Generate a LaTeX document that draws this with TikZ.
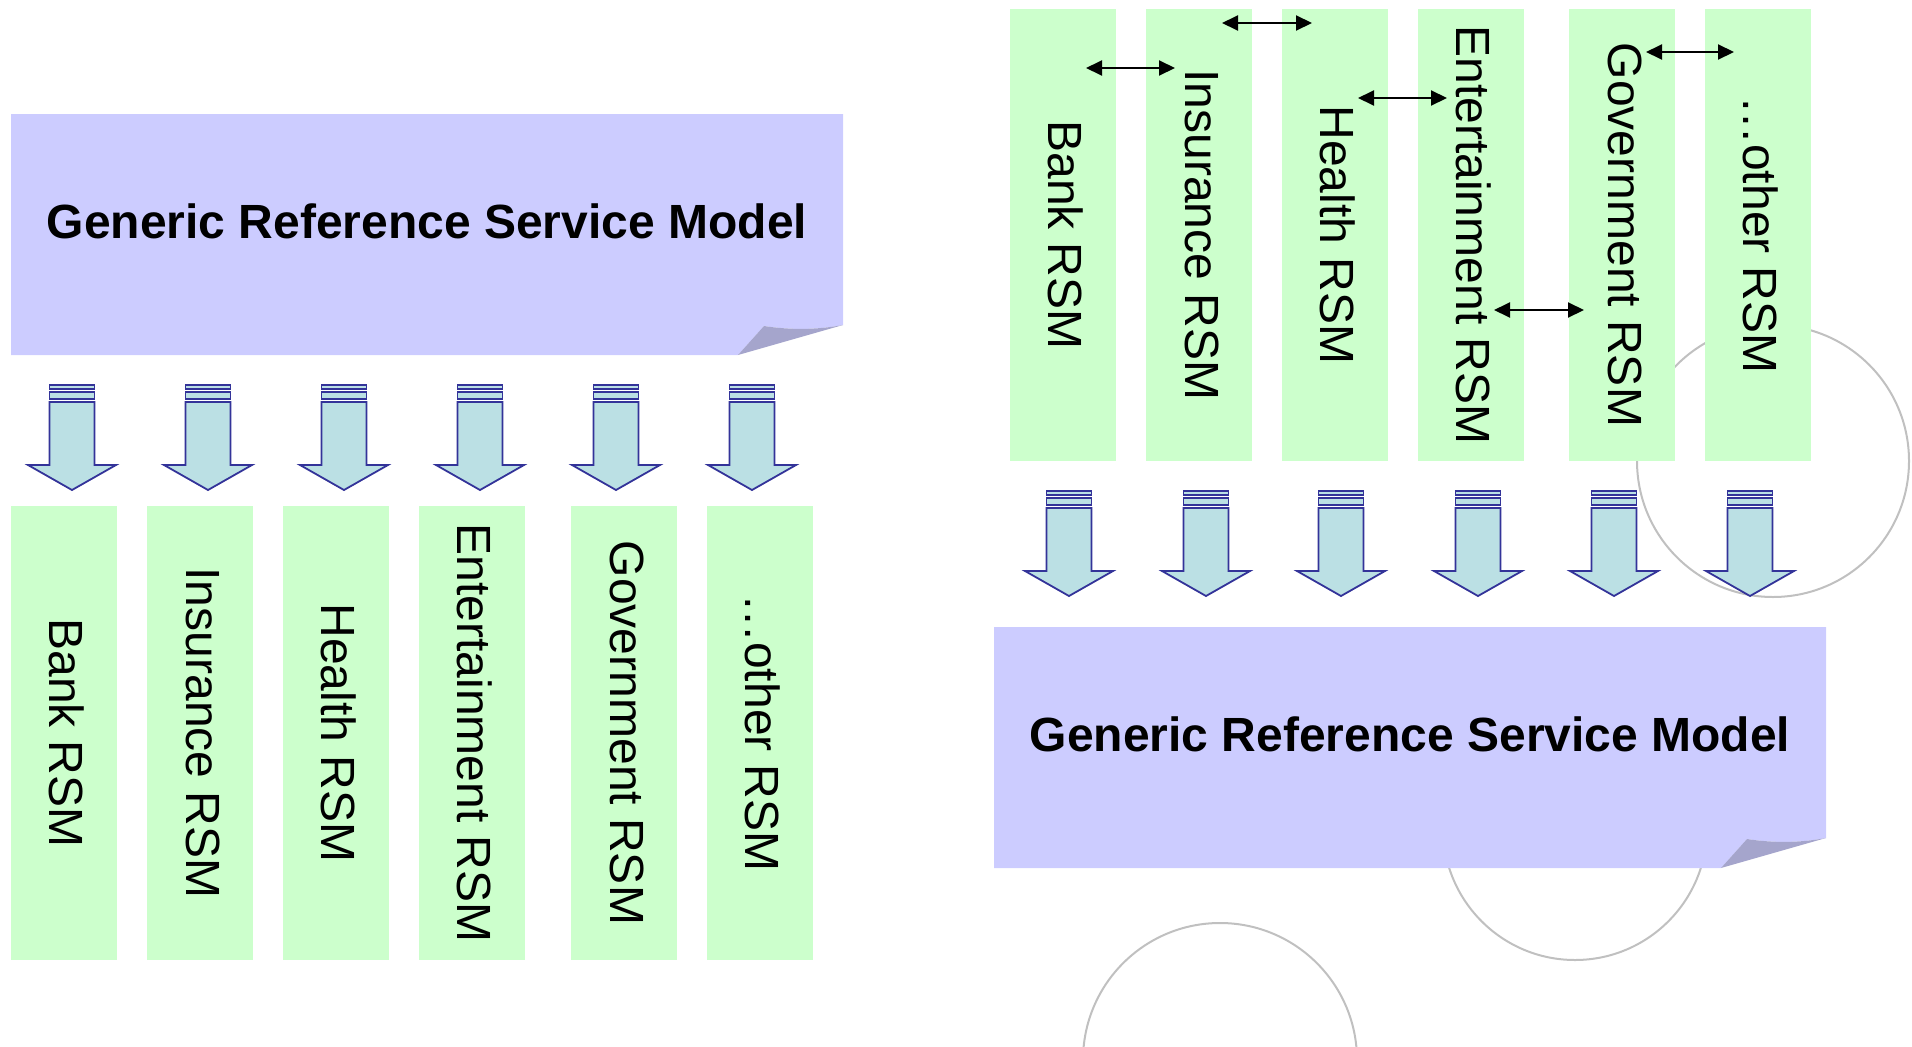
\documentclass[tikz,border=0pt]{standalone}
\usepackage{fontspec}
\setmainfont{Liberation Sans}
\usetikzlibrary{arrows.meta}

\definecolor{notefill}{RGB}{204,204,255}
\definecolor{notefold}{RGB}{165,165,204}
\definecolor{rsmfill}{RGB}{204,255,204}
\definecolor{arrowfill}{RGB}{187,224,228}
\definecolor{arrowline}{RGB}{51,51,153}
\definecolor{ringgray}{RGB}{192,192,192}

\tikzset{
  rsm/.style={fill=rsmfill, rotate=-90, minimum width=454pt, minimum height=106pt,
    inner sep=0pt, text depth=6pt, font=\fontsize{48}{58}\selectfont},
  rsmtop/.style={rsm, minimum width=452pt},
  title/.style={inner sep=0pt, font=\fontsize{48}{58}\selectfont\bfseries},
  ring/.style={draw=ringgray, line width=2pt},
  blockline/.style={draw=arrowline, fill=arrowfill, line width=1.8pt, miter limit=10},
  link/.style={draw=black, line width=2pt,
    {Triangle[length=16pt,width=15pt]}-{Triangle[length=16pt,width=15pt]}},
  % sticky note with a curled lower right corner, origin at its top left
  note/.pic={
    \fill[notefill] (0,0) -- (832,0) -- (832,211)
      .. controls (805,216) and (779,216) .. (753,212) -- (727,241) -- (0,241) -- cycle;
    \fill[notefold] (727,241) -- (753,212)
      .. controls (779,216) and (805,216) .. (832,211) -- cycle;
  },
  % striped block arrow pointing down, origin at the middle of its top
  downarrow/.pic={
    \path[blockline] (-22.5,0) rectangle (22.5,4);
    \path[blockline] (-22.5,7) rectangle (22.5,14);
    \path[blockline] (-22.5,17) -- (22.5,17) -- (22.5,80) -- (44,80)
      -- (0,105) -- (-44,80) -- (-22.5,80) -- cycle;
  },
}

\begin{document}
\begin{tikzpicture}[x=1pt, y=-1pt]
\useasboundingbox (0,0) rectangle (1912,1047);

% background rings
\draw[ring] (1773,461) circle[radius=136];
\draw[ring] (1575,828) circle[radius=132];
\draw[ring] (1220,1060) circle[radius=137];

% ---- left: generic model refined into the domain models ----
\pic at (11,114) {note};
\node[title] (lgrsm) at (427,221) {Generic Reference Service Model};

\foreach \cx in {72,208,344,480,616,752}
  \pic at (\cx,385) {downarrow};

\node[rsm] (lbank) at (64,733)  {Bank RSM};
\node[rsm] (lins)  at (200,733) {Insurance RSM};
\node[rsm] (lhea)  at (336,733) {Health RSM};
\node[rsm] (lent)  at (472,733) {Entertainment RSM};
\node[rsm] (lgov)  at (624,733) {Government RSM};
\node[rsm] (loth)  at (760,733) {…other RSM};

% ---- right: domain models abstracted into the generic model ----
\node[rsmtop] (rbank) at (1063,235) {Bank RSM};
\node[rsmtop] (rins)  at (1199,235) {Insurance RSM};
\node[rsmtop] (rhea)  at (1335,235) {Health RSM};
\node[rsmtop] (rent)  at (1471,235) {Entertainment RSM};
\node[rsmtop] (rgov)  at (1622,235) {Government RSM};
\node[rsmtop] (roth)  at (1758,235) {…other RSM};

% links between neighbouring domain models
\coordinate (bi1) at (1086,68);  \coordinate (bi2) at (1175,68);
\coordinate (ih1) at (1222,23);  \coordinate (ih2) at (1312,23);
\coordinate (he1) at (1358,98);  \coordinate (he2) at (1447,98);
\coordinate (eg1) at (1494,310); \coordinate (eg2) at (1584,310);
\coordinate (go1) at (1646,52);  \coordinate (go2) at (1734,52);
\draw[link] (bi1) -- (bi2);
\draw[link] (ih1) -- (ih2);
\draw[link] (he1) -- (he2);
\draw[link] (eg1) -- (eg2);
\draw[link] (go1) -- (go2);

\foreach \cx in {1069,1206,1341,1478,1614,1750}
  \pic at (\cx,491) {downarrow};

\pic at (994,627) {note};
\node[title] (rgrsm) at (1410,734) {Generic Reference Service Model};
\end{tikzpicture}
\end{document}
